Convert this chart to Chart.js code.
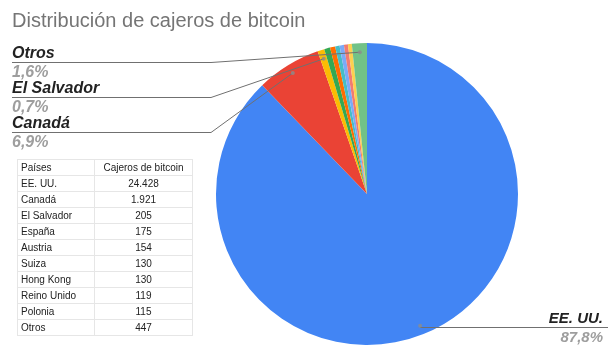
<!DOCTYPE html>
<html>
<head>
<meta charset="utf-8">
<script src="https://cdn.jsdelivr.net/npm/chart.js"></script>
<style>
  body { margin: 0; background: #fff; }
  #wrap { position: relative; width: 612px; height: 359px; overflow: hidden; }
  #chart { position: absolute; left: 0; top: 0; }
  #title {
    position: absolute; left: 12px; top: 10px;
    font: 20px "Liberation Sans", Arial, sans-serif; line-height: 20px;
    color: #757575; white-space: nowrap;
  }
  #tbl {
    position: absolute; left: 17px; top: 159px;
    border-collapse: collapse;
    font: 10px "Liberation Sans", Arial, sans-serif; color: #222;
  }
  #tbl td {
    border: 1px solid #e6e6e6; height: 15px; line-height: 15px;
    padding: 0 3px; white-space: nowrap;
  }
  #tbl td.c1 { width: 70px; text-align: left; }
  #tbl td.c2 { width: 91px; text-align: center; }
</style>
</head>
<body>
<div id="wrap">
  <canvas id="chart" width="612" height="359"></canvas>
  <div id="title">Distribución de cajeros de bitcoin</div>
  <table id="tbl"></table>
</div>
<script>
// data
const countries = ["EE. UU.", "Canadá", "El Salvador", "España", "Austria", "Suiza", "Hong Kong", "Reino Unido", "Polonia", "Otros"];
const atms = [24428, 1921, 205, 175, 154, 130, 130, 119, 115, 447];
const colors = ["#4285f4", "#ea4335", "#fbbc04", "#34a853", "#ff6d01", "#46bdc6", "#7baaf7", "#f07b72", "#fcd04f", "#71c287"];
const tableHead = ["Países", "Cajeros de bitcoin"];

// table
function fmt(v) {
  return String(v).replace(/\B(?=(\d{3})+(?!\d))/g, ".");
}
const tbl = document.getElementById("tbl");
let html = "<tr><td class='c1'>" + tableHead[0] + "</td><td class='c2'>" + tableHead[1] + "</td></tr>";
countries.forEach((c, i) => {
  html += "<tr><td class='c1'>" + c + "</td><td class='c2'>" + fmt(atms[i]) + "</td></tr>";
});
tbl.innerHTML = html;

const total = atms.reduce((a, b) => a + b, 0);
function pct(v) {
  return (v / total * 100).toFixed(1).replace(".", ",") + "%";
}

// which slices get a callout and where the label sits
const leftLabels = [
  { index: 9, y: 58 },
  { index: 2, y: 93 },
  { index: 1, y: 128 },
];
const rightLabels = [{ index: 0 }];

const calloutPlugin = {
  id: "callouts",
  afterDraw(chart) {
    const ctx = chart.ctx;
    const arcs = chart.getDatasetMeta(0).data;
    const anchor = (i) => {
      const a = arcs[i];
      const mid = (a.startAngle + a.endAngle) / 2;
      const r = a.outerRadius * 0.94;
      return { x: a.x + Math.cos(mid) * r, y: a.y + Math.sin(mid) * r };
    };
    const dot = (p) => {
      ctx.beginPath();
      ctx.arc(p.x, p.y, 2, 0, Math.PI * 2);
      ctx.fillStyle = "rgba(140,140,140,0.8)";
      ctx.fill();
    };
    ctx.save();
    ctx.lineWidth = 1;
    ctx.strokeStyle = "#707070";
    ctx.textBaseline = "alphabetic";

    leftLabels.forEach((l) => {
      const p = anchor(l.index);
      const ly = l.y + 4.5;
      ctx.beginPath();
      ctx.moveTo(12, ly);
      ctx.lineTo(211, ly);
      ctx.lineTo(p.x, p.y);
      ctx.stroke();
      dot(p);
      ctx.textAlign = "left";
      ctx.font = "italic bold 16px 'Liberation Sans', Arial, sans-serif";
      ctx.fillStyle = "#222";
      ctx.fillText(countries[l.index], 12, l.y);
      ctx.fillStyle = "#9e9e9e";
      ctx.fillText(pct(atms[l.index]), 12, l.y + 19);
    });

    rightLabels.forEach((l) => {
      const p = anchor(l.index);
      const ly = Math.round(p.y) + 1.5;
      ctx.beginPath();
      ctx.moveTo(p.x, ly);
      ctx.lineTo(608, ly);
      ctx.stroke();
      dot(p);
      ctx.textAlign = "right";
      ctx.font = "italic bold 15px 'Liberation Sans', Arial, sans-serif";
      ctx.fillStyle = "#222";
      ctx.fillText(countries[l.index], 603, ly - 5);
      ctx.fillStyle = "#9e9e9e";
      ctx.fillText(pct(atms[l.index]), 603, ly + 14);
    });
    ctx.restore();
  },
};

const ctx = document.getElementById("chart").getContext("2d");
new Chart(ctx, {
  type: "pie",
  data: {
    labels: countries,
    datasets: [
      {
        data: atms,
        backgroundColor: colors,
        borderWidth: 0,
      },
    ],
  },
  options: {
    responsive: false,
    animation: false,
    events: [],
    layout: {
      padding: { left: 216, right: 94, top: 43, bottom: 14 },
    },
    plugins: {
      legend: { display: false },
      tooltip: { enabled: false },
    },
  },
  plugins: [calloutPlugin],
});
</script>
</body>
</html>
